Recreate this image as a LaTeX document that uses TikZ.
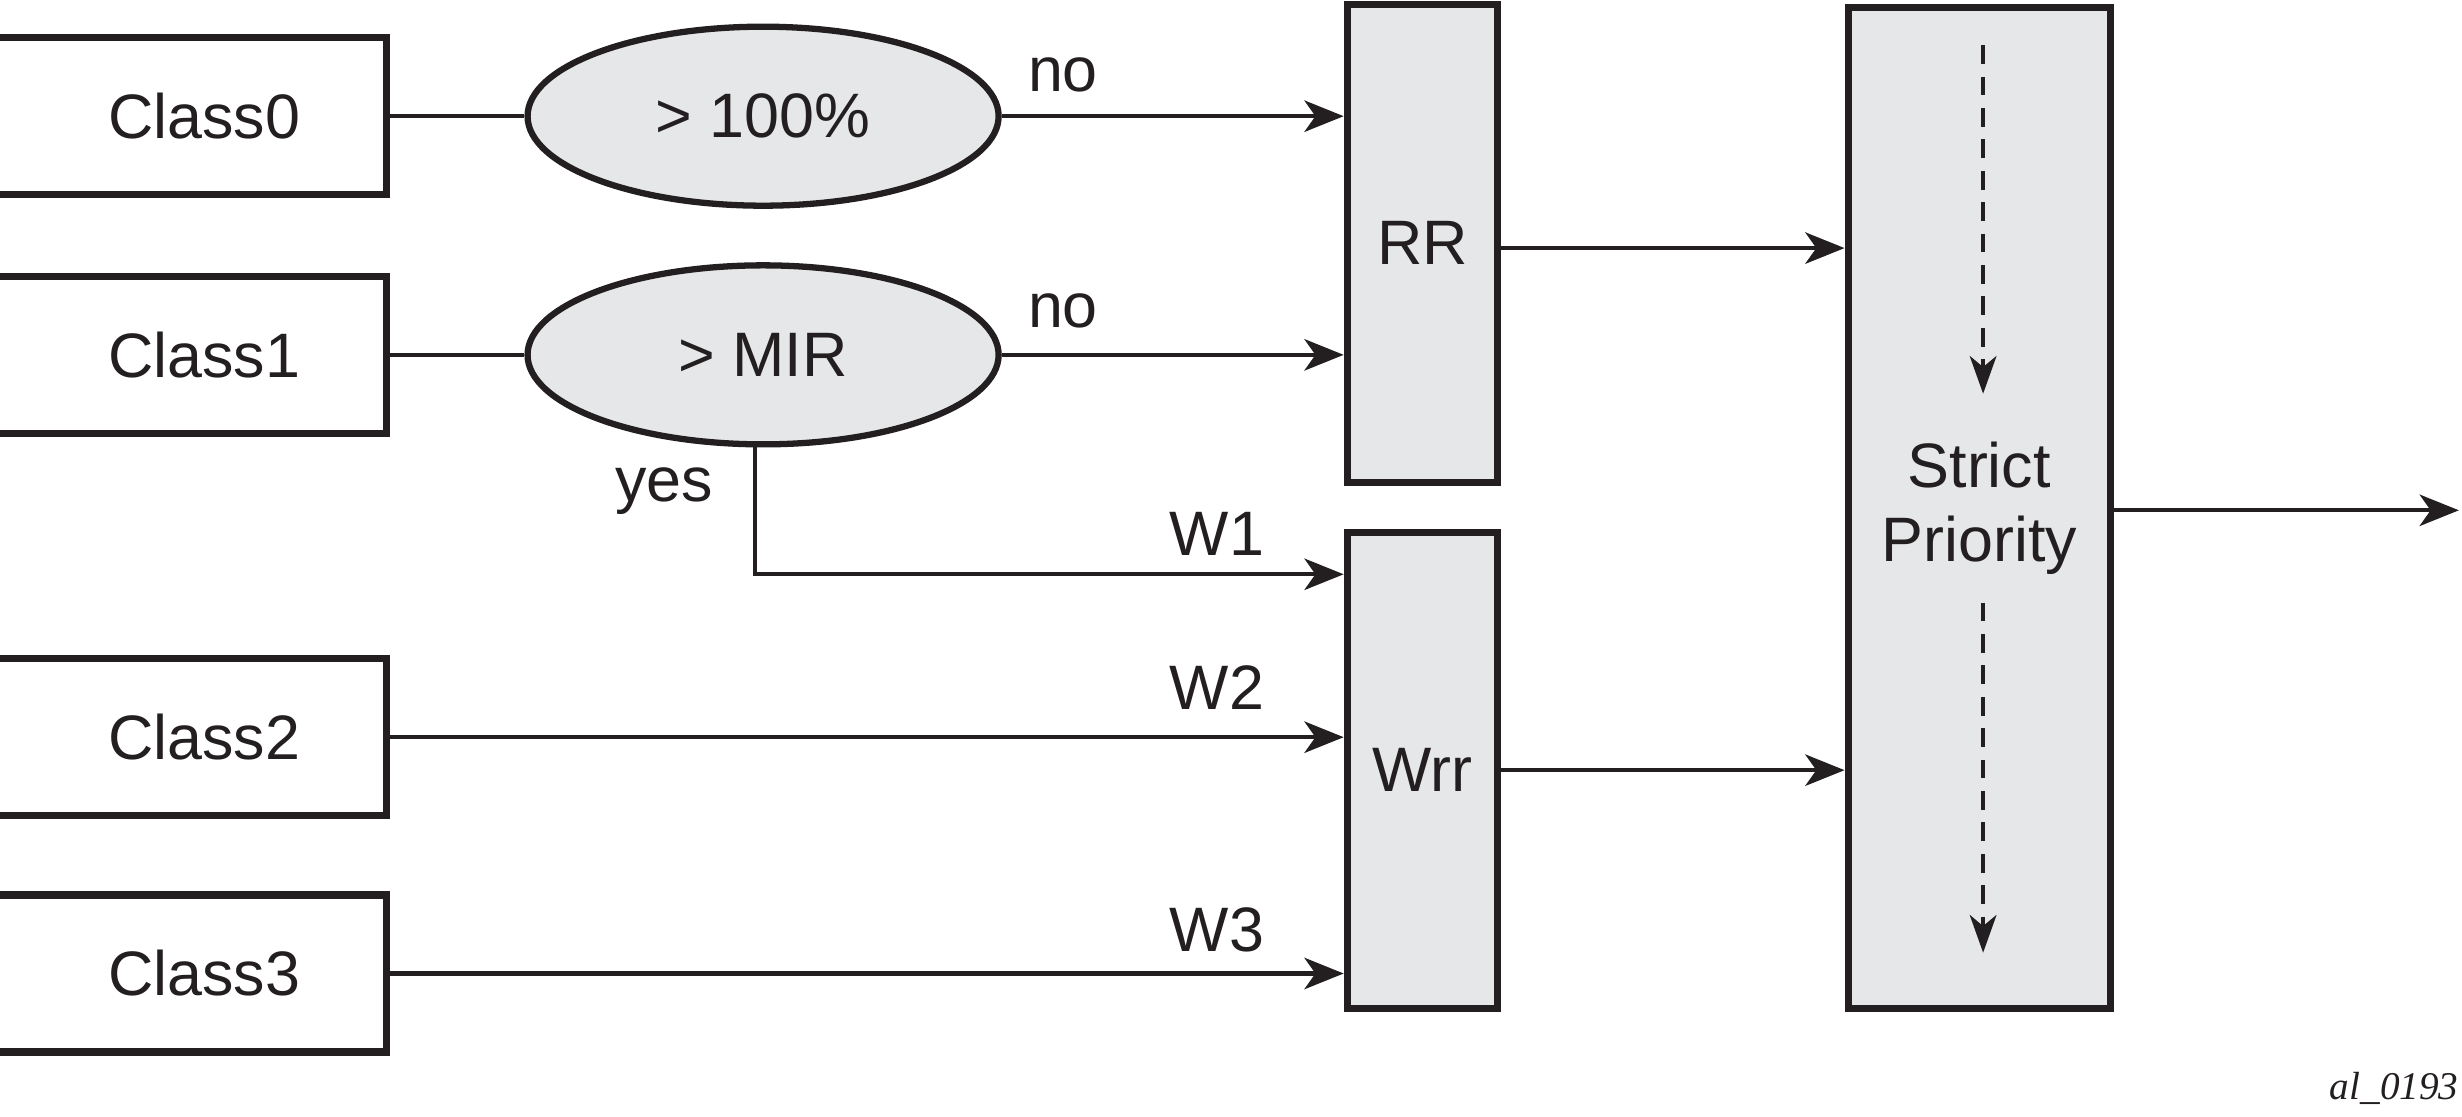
\documentclass[tikz,border=0pt]{standalone}
\usepackage{fontspec}
\setmainfont{Liberation Sans}
\newfontfamily\serifit{Liberation Serif}
\usetikzlibrary{arrows.meta,shapes.geometric}
\definecolor{ink}{HTML}{231F20}
\definecolor{boxgray}{HTML}{E6E7E8}
\tikzset{
  txt/.style={font=\fontsize{40}{47}\selectfont, text=ink},
  classbox/.style={draw=ink, line width=4.5pt, fill=white, rectangle, minimum width=256pt, minimum height=100pt, inner sep=0pt, txt},
  testell/.style={draw=ink, line width=4pt, fill=boxgray, ellipse, minimum width=300pt, minimum height=114pt, inner sep=0pt, txt},
  schedbox/.style={draw=ink, line width=4.5pt, fill=boxgray, rectangle, inner sep=0pt, txt, align=center},
  conn/.style={draw=ink, line width=2.6pt},
  arr/.style={conn, -{Stealth[length=25pt,width=20pt,inset=7pt]}},
  dasharr/.style={conn, dash pattern=on 12pt off 8pt, -{Stealth[length=24pt,width=17pt,inset=7pt]}},
  lbl/.style={txt}
}
\begin{document}
\begin{tikzpicture}[x=1pt,y=-1pt]
\useasboundingbox (0,0) rectangle (1568,711);
% class boxes (left edge beyond the picture)
\node[classbox] (c0) at (118,74) {\hspace{24pt}Class0};
\node[classbox] (c1) at (118,226) {\hspace{24pt}Class1};
\node[classbox] (c2) at (118,469.5) {\hspace{24pt}Class2};
\node[classbox] (c3) at (118,620) {\hspace{24pt}Class3};
% tests
\node[testell] (e0) at (486,74) {> 100\%};
\node[testell] (e1) at (486,226) {> MIR};
% schedulers
\node[schedbox, minimum width=96pt, minimum height=304pt] (rr) at (906,155) {RR};
\node[schedbox, minimum width=96pt, minimum height=303pt] (wrr) at (906,490.5) {Wrr};
\node[schedbox, minimum width=167pt, minimum height=637pt] (sp) at (1260.5,323.5) {Strict\\Priority};
\coordinate (out) at (1566,325);
% connectors
\draw[conn] (c0.east) -- (e0.west);
\draw[conn] (c1.east) -- (e1.west);
\draw[arr] (e0.east) -- (e0.east -| rr.west);
\draw[arr] (e1.east) -- (e1.east -| rr.west);
\draw[arr] ([xshift=-5pt]e1.south) |- ([yshift=-29pt]wrr.north west);
\draw[arr] (c2.east) -- (c2.east -| wrr.west);
\draw[arr] (c3.east) -- (c3.east -| wrr.west);
\draw[arr] ([yshift=-3pt]rr.east) -- ([yshift=-3pt]rr.east -| sp.west);
\draw[arr] (wrr.east) -- (wrr.east -| sp.west);
\draw[arr] ([yshift=-1.5pt]sp.east) -- (out);
\draw[dasharr] ([xshift=2.5pt,yshift=-26pt]sp.north) -- ([xshift=2.5pt,yshift=-248pt]sp.north);
\draw[dasharr] ([xshift=2.5pt,yshift=-381pt]sp.north) -- ([xshift=2.5pt,yshift=-604pt]sp.north);
% labels
\node[lbl] (no0) at (677,48) {no};
\node[lbl] (no1) at (677,198) {no};
\node[lbl] (yes) at (423,313) {yes};
\node[lbl] (w1) at (775,340) {W1};
\node[lbl] (w2) at (775,438) {W2};
\node[lbl] (w3) at (775,592) {W3};
\node[anchor=base east, inner sep=0pt, text=ink, font=\serifit\itshape\fontsize{25}{30}\selectfont] (id) at (1566,700) {al\_0193};
\end{tikzpicture}
\end{document}
